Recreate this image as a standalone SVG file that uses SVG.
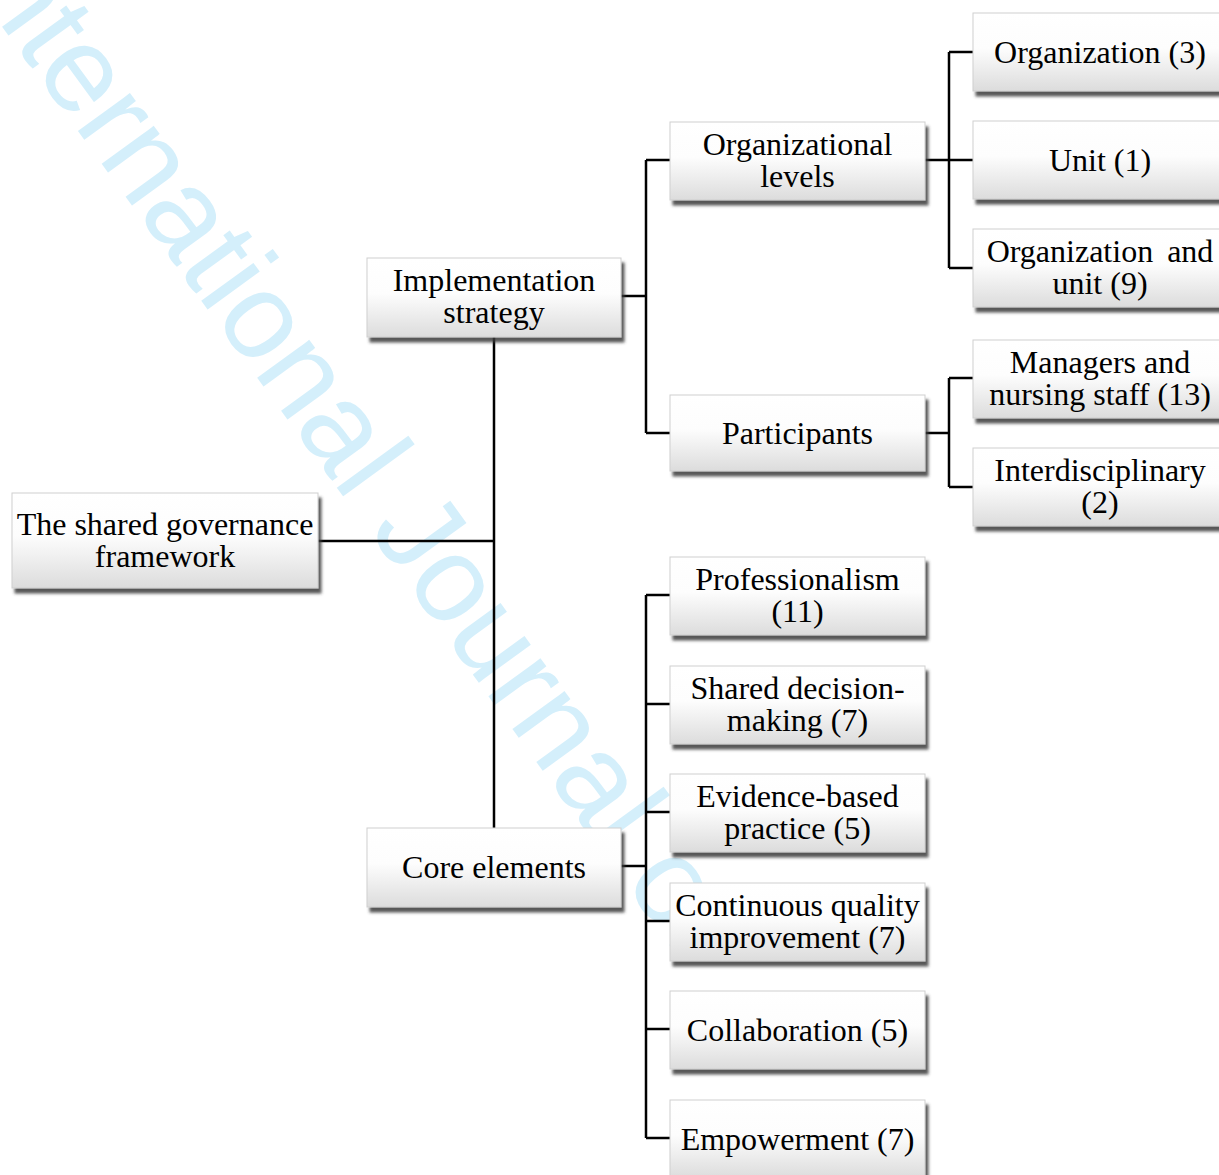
<svg xmlns="http://www.w3.org/2000/svg" width="1219" height="1175" viewBox="0 0 1219 1175">
<style>
.box{fill:url(#g);stroke:#cfcfcf;stroke-width:1;filter:url(#sh)}
.t{font-family:"Liberation Serif","Times New Roman",serif;font-size:32px;fill:#000;text-anchor:middle}
.c{fill:none;stroke:#000;stroke-width:2.5}
.wm{font-family:"Liberation Sans",Arial,sans-serif;font-size:122px;fill:#d4effb}
</style>
<defs>
<linearGradient id="g" x1="0" y1="0" x2="0" y2="1">
<stop offset="0" stop-color="#ffffff"/>
<stop offset="0.45" stop-color="#fdfdfd"/>
<stop offset="1" stop-color="#dcdcdc"/>
</linearGradient>
<filter id="sh" x="-5%" y="-10%" width="115%" height="130%">
<feDropShadow dx="3" dy="5" stdDeviation="1.5" flood-color="#3a3a3a" flood-opacity="0.85"/>
</filter>
</defs>
<rect width="1219" height="1175" fill="#fff"/>
<g id="watermark">
<text class="wm" transform="translate(-46.7,-40.4) rotate(54)" x="0" y="0">International Journal of</text>
</g>
<g id="connectors">
<path class="c" d="M318 541 H494 M494 337 V828"/>
<path class="c" d="M621 296 H646 M646 160 V433 M646 160 H670 M646 433 H670"/>
<path class="c" d="M925 160 H973 M949 52 V268 M949 52 H973 M949 268 H973"/>
<path class="c" d="M925 433 H949 M949 378 V487 M949 378 H973 M949 487 H973"/>
<path class="c" d="M621 866 H646 M646 595 V1138 M646 595 H670 M646 704 H670 M646 812 H670 M646 921 H670 M646 1029 H670 M646 1138 H670"/>
</g>
<g id="root"><rect class="box" x="12" y="493" width="306" height="95"/><text class="t" x="165" y="535">The shared governance</text><text class="t" x="165" y="567">framework</text></g>
<g id="implementation"><rect class="box" x="367" y="258" width="254" height="79"/><text class="t" x="494" y="291">Implementation</text><text class="t" x="494" y="323">strategy</text></g>
<g id="core"><rect class="box" x="367" y="828" width="254" height="79"/><text class="t" x="494" y="878">Core elements</text></g>
<g id="orglevels"><rect class="box" x="670" y="122" width="255" height="78"/><text class="t" x="797.5" y="155">Organizational</text><text class="t" x="797.5" y="187">levels</text></g>
<g id="participants"><rect class="box" x="670" y="395" width="255" height="76"/><text class="t" x="797.5" y="444">Participants</text></g>
<g id="professionalism"><rect class="box" x="670" y="557" width="255" height="78"/><text class="t" x="797.5" y="590">Professionalism</text><text class="t" x="797.5" y="622">(11)</text></g>
<g id="shared"><rect class="box" x="670" y="666" width="255" height="78"/><text class="t" x="797.5" y="699">Shared decision-</text><text class="t" x="797.5" y="731">making (7)</text></g>
<g id="evidence"><rect class="box" x="670" y="774" width="255" height="78"/><text class="t" x="797.5" y="807">Evidence-based</text><text class="t" x="797.5" y="839">practice (5)</text></g>
<g id="cqi"><rect class="box" x="670" y="883" width="255" height="78"/><text class="t" x="797.5" y="916">Continuous quality</text><text class="t" x="797.5" y="948">improvement (7)</text></g>
<g id="collaboration"><rect class="box" x="670" y="991" width="255" height="78"/><text class="t" x="797.5" y="1041">Collaboration (5)</text></g>
<g id="empowerment"><rect class="box" x="670" y="1100" width="255" height="78"/><text class="t" x="797.5" y="1150">Empowerment (7)</text></g>
<g id="organization"><rect class="box" x="973" y="13" width="254" height="78"/><text class="t" x="1100" y="63">Organization (3)</text></g>
<g id="unit"><rect class="box" x="973" y="121" width="254" height="78"/><text class="t" x="1100" y="171">Unit (1)</text></g>
<g id="orgunit"><rect class="box" x="973" y="229" width="254" height="78"/><text class="t" x="1100" y="262" word-spacing="6">Organization and</text><text class="t" x="1100" y="294">unit (9)</text></g>
<g id="managers"><rect class="box" x="973" y="340" width="254" height="78"/><text class="t" x="1100" y="373">Managers and</text><text class="t" x="1100" y="405">nursing staff (13)</text></g>
<g id="interdisciplinary"><rect class="box" x="973" y="448" width="254" height="78"/><text class="t" x="1100" y="481">Interdisciplinary</text><text class="t" x="1100" y="513">(2)</text></g>
</svg>
